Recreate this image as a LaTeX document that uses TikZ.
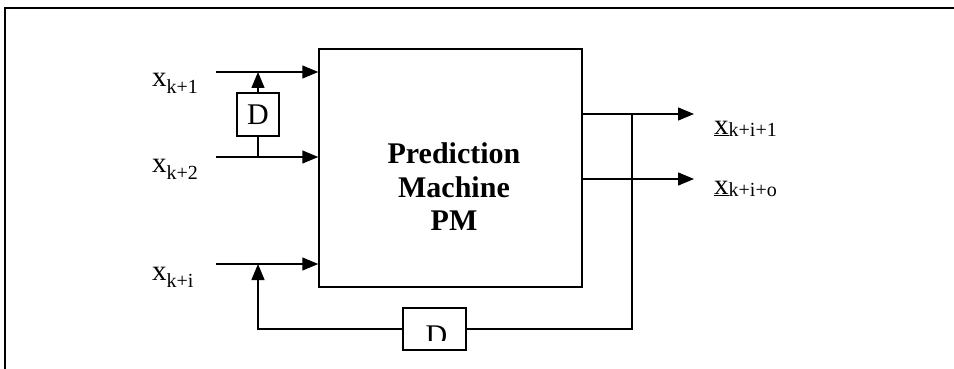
\documentclass[tikz,border=0pt]{standalone}
\usepackage{fontspec}
\setmainfont{Liberation Serif}
\usetikzlibrary{arrows.meta}
\newcommand{\xlab}[3]{{\fontsize{29}{29}\selectfont #1}\raisebox{-#3}{\fontsize{20}{20}\selectfont #2}}
\tikzset{
  wire/.style={line width=1.5pt},
  arr/.style={wire,-{Triangle[length=16pt,width=13pt]}},
  blk/.style={draw,line width=1.5pt,rectangle,inner sep=0pt},
  lab/.style={inner sep=0pt,anchor=base west},
}
\begin{document}
\begin{tikzpicture}[x=1pt,y=-1pt]
\useasboundingbox (0,0) rectangle (954,369);
% frame
\draw[line width=2pt] (5,369) -- (5,8) -- (954,8);
% prediction machine
\node[blk,minimum width=263pt,minimum height=238pt] (pm) at (450.5,168) {};
\node[inner sep=0pt,anchor=north,align=center,font=\bfseries\fontsize{30}{33.5}\selectfont] (pmtext) at (454,142.5) {Prediction\\Machine\\PM};
% delay boxes
\node[blk,minimum width=42pt,minimum height=43pt,font=\fontsize{30}{30}\selectfont] (d1) at (258,114.5) {D};
\node[blk,minimum width=63pt,minimum height=42pt] (d2) at (434.5,329) {};
\begin{scope}
  \clip (403,300) rectangle (466,340);
  \node[inner sep=0pt,font=\fontsize{30}{30}\selectfont] (d2t) at (436.5,336) {D};
\end{scope}
% input coordinates
\coordinate (i1) at (216,72);
\coordinate (i2) at (216,157);
\coordinate (i3) at (216,264);
\coordinate (j1) at (258,72);
\coordinate (j2) at (258,157);
\coordinate (j3) at (258,264);
\coordinate (fb) at (258,329);
\coordinate (o1) at (694,114);
\coordinate (o2) at (694,179);
\coordinate (v1) at (632,114);
\coordinate (v3) at (632,329);
% inputs
\draw[arr] (i1) -- (i1 -| pm.west);
\draw[arr] (i2) -- (i2 -| pm.west);
\draw[arr] (i3) -- (i3 -| pm.west);
\draw[arr] (d1.north) -- (j1);
\draw[wire] (j2) -- (d1.south);
% outputs
\draw[arr] (o1 -| pm.east) -- (o1);
\draw[arr] (o2 -| pm.east) -- (o2);
% feedback
\draw[wire] (v1) -- (v3) -- (d2.east);
\draw[arr] (d2.west) -- (fb) -- (j3);
% labels
\node[lab] (l1) at (152,87) {\xlab{x}{k+1}{7pt}};
\node[lab] (l2) at (152,172) {\xlab{x}{k+2}{7pt}};
\node[lab] (l3) at (152,280) {\xlab{x}{k+i}{7pt}};
\node[lab] (l4) at (714,134) {\xlab{\underline{x}}{k+i+1}{2pt}};
\node[lab] (l5) at (714,194) {\xlab{\underline{x}}{k+i+o}{2pt}};
\end{tikzpicture}
\end{document}
